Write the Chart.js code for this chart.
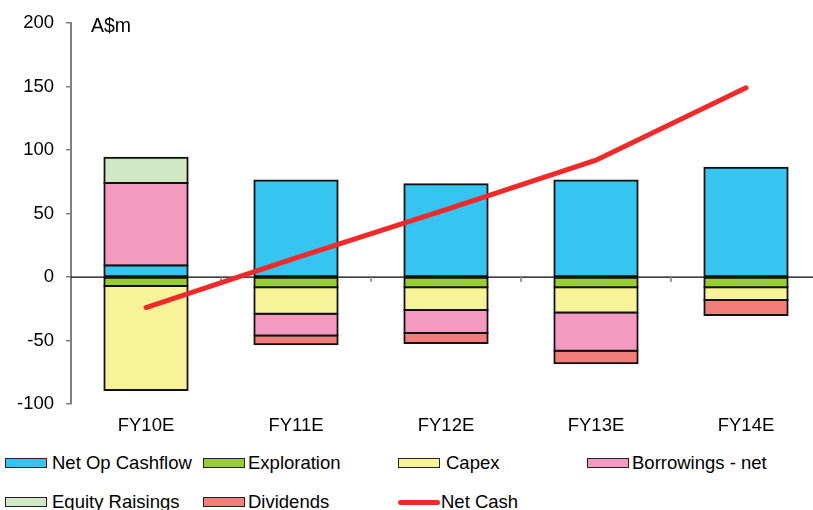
<!DOCTYPE html>
<html>
<head>
<meta charset="utf-8">
<script src="https://cdn.jsdelivr.net/npm/chart.js@4"></script>
<style>
  body { margin: 0; overflow: hidden; background: #fff; font-family: "Liberation Sans", Arial, sans-serif; }
  .wrap { position: relative; width: 821px; height: 440px; }
  .legend { position: absolute; left: 0; top: 440px; width: 813px; height: 70px; }
  .item { position: absolute; display: flex; align-items: center; font-size: 18.5px; color: #000; white-space: nowrap; height: 22px; }
  .box { width: 42px; height: 10px; border: 1.5px solid #222; box-sizing: border-box; }
  .ln { width: 42px; height: 5px; border-radius: 2.5px; }
</style>
</head>
<body>
<div class="wrap"><canvas id="myChart"></canvas></div>
<div class="legend" id="legend"></div>
<script>
const categories = ['FY10E', 'FY11E', 'FY12E', 'FY13E', 'FY14E'];
const netOpCashflow = [9, 76, 73, 76, 86];
const exploration = [-7, -8, -8, -8, -8];
const capex = [-82, -21, -18, -20, -10];
const borrowings = [65, -17, -18, -30, null];
const equityRaisings = [20, null, null, null, null];
const dividends = [null, -7, -8, -10, -12];
const netCash = [-24, 15, 53, 92, 149];
const yTicks = [-100, -50, 0, 50, 100, 150, 200];

const FONT = '"Liberation Sans", Arial, sans-serif';

function bar(label, data, color) {
    return {
        label: label,
        data: data,
        backgroundColor: color,
        borderColor: '#111',
        borderWidth: 2,
        borderSkipped: false,
        inflateAmount: 1,
        barPercentage: 0.555,
        categoryPercentage: 1
    };
}

const datasets = [
    bar('Net Op Cashflow', netOpCashflow, '#36C5F0'),
    bar('Exploration', exploration, '#99CC33'),
    bar('Capex', capex, '#F8F399'),
    bar('Borrowings - net', borrowings, '#F49AC1'),
    bar('Equity Raisings', equityRaisings, '#D0E8C4'),
    bar('Dividends', dividends, '#F27E7B'),
    {
        type: 'line',
        label: 'Net Cash',
        data: netCash,
        borderColor: '#EE2A2A',
        borderWidth: 5,
        borderCapStyle: 'round',
        pointRadius: 0,
        tension: 0,
        order: -1
    }
];

// zero line, x ticks and unit label
const extras = {
    id: 'extras',
    beforeDatasetsDraw(chart) {
        const ctx = chart.ctx;
        const area = chart.chartArea;
        const y0 = chart.scales.y.getPixelForValue(0);
        ctx.save();
        ctx.strokeStyle = '#000';
        ctx.lineWidth = 1.2;
        ctx.beginPath();
        ctx.moveTo(area.left, y0);
        ctx.lineTo(area.right, y0);
        ctx.stroke();
        ctx.strokeStyle = '#808080';
        ctx.lineWidth = 1.5;
        const step = (area.right - area.left) / categories.length;
        for (let i = 1; i < categories.length; i++) {
            const x = area.left + step * i;
            ctx.beginPath();
            ctx.moveTo(x, y0);
            ctx.lineTo(x, y0 + 5);
            ctx.stroke();
        }
        ctx.fillStyle = '#000';
        ctx.font = '19.5px ' + FONT;
        ctx.textBaseline = 'middle';
        ctx.fillText('A$m', area.left + 20, area.top + 4);
        ctx.restore();
    }
};

const ctx = document.getElementById('myChart');

new Chart(ctx, {
    type: 'bar',
    data: { labels: categories, datasets: datasets },
    plugins: [extras],
    options: {
        responsive: true,
        maintainAspectRatio: false,
        animation: false,
        layout: { padding: { top: 19, left: 0, right: 0, bottom: 0 } },
        plugins: { legend: { display: false }, tooltip: { enabled: false } },
        scales: {
            x: {
                stacked: true,
                grid: { display: false },
                border: { display: false },
                ticks: { color: '#000', font: { family: FONT, size: 18.5 }, padding: 3 },
                afterFit: s => { s.height = 36; }
            },
            y: {
                stacked: true,
                min: -100,
                max: 200,
                afterBuildTicks: s => { s.ticks = yTicks.map(v => ({ value: v })); },
                grid: { drawOnChartArea: false, drawTicks: true, tickLength: 5, color: '#808080', lineWidth: 1.5 },
                border: { color: '#808080', width: 2 },
                ticks: { color: '#000', font: { family: FONT, size: 18.5 }, padding: 12 },
                afterFit: s => { s.width = 71; }
            }
        }
    }
});

// legend
const legendItems = [
    { label: 'Net Op Cashflow', color: '#36C5F0', x: 5, tx: 52, row: 0 },
    { label: 'Exploration', color: '#99CC33', x: 203, tx: 248, row: 0 },
    { label: 'Capex', color: '#F8F399', x: 398, tx: 446, row: 0 },
    { label: 'Borrowings - net', color: '#F49AC1', x: 587, tx: 632, row: 0 },
    { label: 'Equity Raisings', color: '#D0E8C4', x: 5, tx: 52, row: 1 },
    { label: 'Dividends', color: '#F27E7B', x: 203, tx: 248, row: 1 },
    { label: 'Net Cash', color: '#EE2A2A', x: 398, tx: 441, row: 1, line: true }
];
const legendDiv = document.getElementById('legend');
legendItems.forEach(it => {
    const top = (it.row === 0 ? 463 : 502) - 440 - 11;
    const mark = document.createElement('div');
    mark.className = 'item';
    mark.style.left = it.x + 'px';
    mark.style.top = top + 'px';
    const m = document.createElement('span');
    m.className = it.line ? 'ln' : 'box';
    m.style.background = it.color;
    mark.appendChild(m);
    legendDiv.appendChild(mark);
    const t = document.createElement('div');
    t.className = 'item';
    t.style.left = it.tx + 'px';
    t.style.top = top + 'px';
    t.textContent = it.label;
    legendDiv.appendChild(t);
});
</script>
</body>
</html>
